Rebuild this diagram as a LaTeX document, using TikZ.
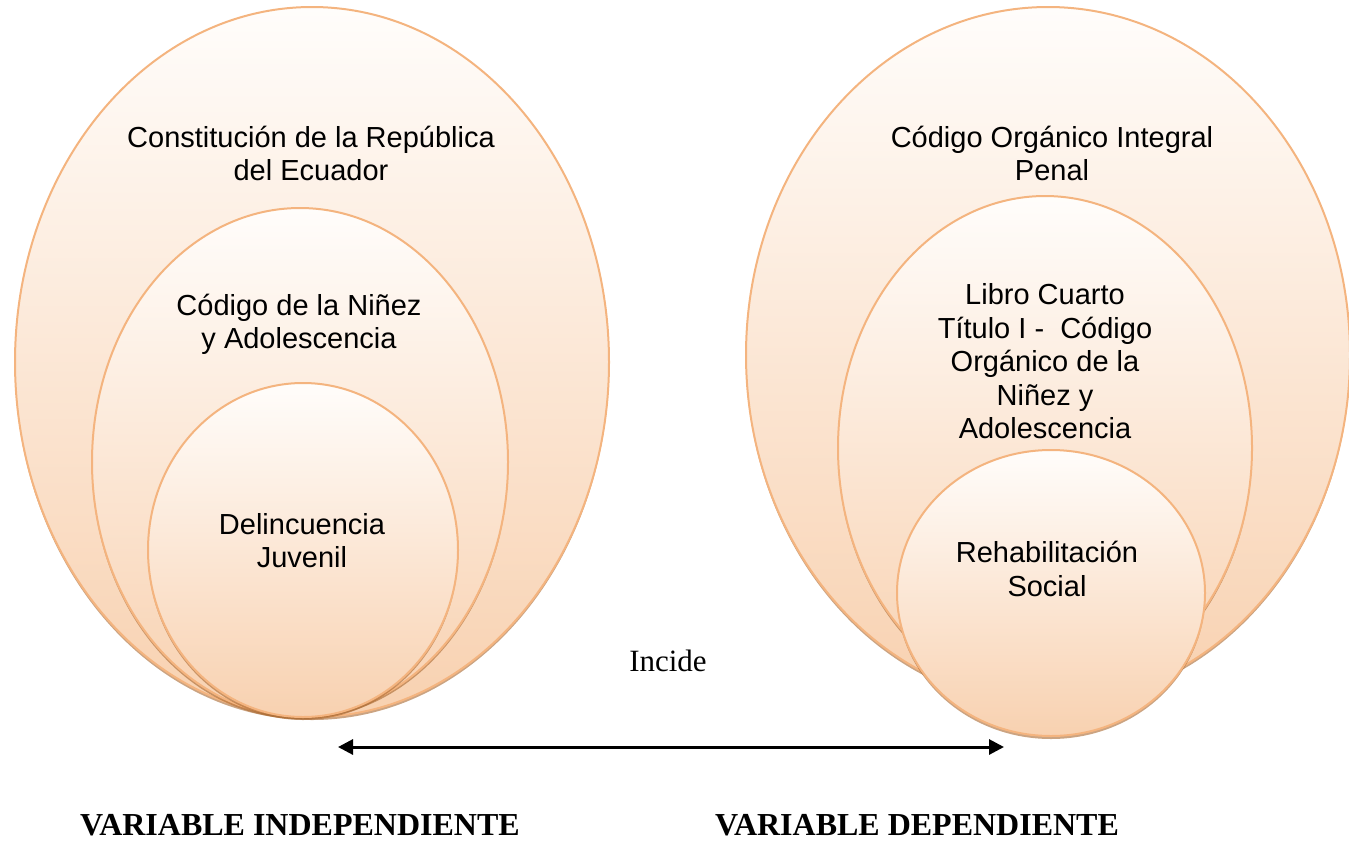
\documentclass[tikz,border=0pt]{standalone}
\usepackage{fontspec}
\setmainfont{Liberation Sans}
\newfontfamily\timesfont{Liberation Serif}
\usetikzlibrary{shapes.geometric,shadows,arrows.meta}
\definecolor{rim}{HTML}{F4B47F}
\definecolor{peachtop}{HTML}{FFFDFB}
\definecolor{peachbot}{HTML}{F8D1B0}
\definecolor{shadowcol}{HTML}{A9672E}
\tikzset{
  bubble/.style={ellipse, draw=rim, line width=2pt, inner sep=0pt,
    top color=peachtop, bottom color=peachbot,
    drop shadow={shadow xshift=0pt, shadow yshift=-3pt, fill=shadowcol, opacity=0.6}},
  bubtext/.style={align=center, font=\fontsize{29}{33.5}\selectfont, inner sep=0pt},
  vartext/.style={font=\timesfont\bfseries\fontsize{32}{36}\selectfont, inner sep=0pt, anchor=base},
}
\begin{document}
\begin{tikzpicture}[x=1pt,y=-1pt]
\useasboundingbox (0,0) rectangle (1349,841);
% left group
\node[bubble, minimum width=594pt, minimum height=710pt] (LO) at (312,362) {};
\node[bubble, minimum width=416pt, minimum height=508pt] (LM) at (300,462) {};
\node[bubble, minimum width=310pt, minimum height=334pt] (LI) at (303,550) {};
\node[bubtext] (tLO) at (311,153.5) {Constitución de la República\\del Ecuador};
\node[bubtext] (tLM) at (299,324.5) {Código de la Niñez\\y Adolescencia};
\node[bubtext] (tLI) at (302,540.5) {Delincuencia\\Juvenil};
% right group
\node[bubble, minimum width=604pt, minimum height=696pt] (RO) at (1048,355) {};
\node[bubble, minimum width=414pt, minimum height=504pt] (RM) at (1045,448) {};
\node[bubble, minimum width=308pt, minimum height=286pt] (RI) at (1051,593) {};
\node[bubtext] (tRO) at (1052,153.5) {Código Orgánico Integral\\Penal};
\node[bubtext] (tRM) at (1045,361.5) {Libro Cuarto\\Título I -\ \ Código\\Orgánico de la\\Niñez y\\Adolescencia};
\node[bubtext] (tRI) at (1047,569) {Rehabilitación\\Social};
% relation
\node[font=\timesfont\fontsize{31}{36}\selectfont, inner sep=0pt] (inc) at (668,661) {Incide};
\coordinate (aL) at (338,747);
\coordinate (aR) at (1004,747);
\draw[line width=3pt, {Triangle[length=15pt,width=15pt]}-{Triangle[length=15pt,width=15pt]}] (aL) -- (aR);
\node[vartext] (vi) at (300,835) {VARIABLE INDEPENDIENTE};
\node[vartext] (vd) at (917,835) {VARIABLE DEPENDIENTE};
\end{tikzpicture}
\end{document}
